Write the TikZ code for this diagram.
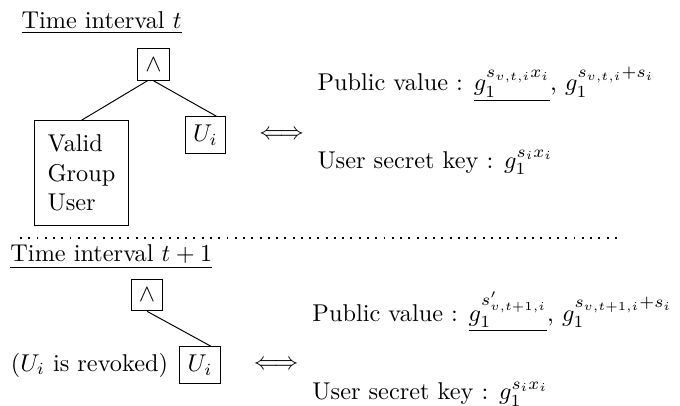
\documentclass[tikz,border=0pt]{standalone}
\usepackage{amsmath, amssymb}
\usepackage{tikz}
\usetikzlibrary{calc}
\tikzset{gatebox/.style={draw, inner sep=2pt, minimum size=13pt}}
\tikzset{userbox/.style={draw}}
\tikzset{groupbox/.style={draw, align=left, inner sep=5pt, minimum width=39pt, minimum height=43pt}}
\tikzset{keytext/.style={anchor=base west}}
\tikzset{sepline/.style={dash pattern=on 0.8pt off 2.6pt, line width=0.5pt}}
\newcommand{\timetitle}[1]{\underline{Time interval $#1$}}

\begin{document}
\begin{tikzpicture}
        \useasboundingbox (0,0) rectangle (9.835,-5.858);

        % time interval t
        \node (title1) [keytext] at (0.187, -0.419) {\timetitle{t}};
        \node (and1) at (2.220, -0.933) [gatebox] {$\wedge$};
        \node (valid) at (1.179, -2.502) [groupbox] {Valid\\Group\\User};
        \node (Ui1) at (2.972, -1.952) [userbox] {$U_i$};
        \draw ([xshift=-2.5pt]and1.south) -- (valid.north);
        \draw (and1.south) -- ([xshift=4.5pt]Ui1.north);

        \node (iff1) [right of=Ui1, node distance=1.1cm] {$\Longleftrightarrow$};
        \node (pub1) [keytext] at (4.468, -1.316) {Public value : $\underline{g_1^{s_{v,t,i}x_i}}$, $g_1^{s_{v,t,i}+s_i}$};
        \node (key1) [keytext] at (4.468, -2.430) {User secret key : $g_1^{s_i x_i}$};

        \coordinate (sepL) at (0.289, -3.442);
        \coordinate (sepR) at (8.938, -3.442);
        \draw[sepline] (sepL) -- (sepR);

        % time interval t+1
        \node (title2) [keytext] at (0.027, -3.789) {\timetitle{t+1}};
        \node (and2) at (2.126, -4.267) [gatebox] {$\wedge$};
        \node (Ui2) at (2.893, -5.279) [userbox] {$U_i$};
        \node (revoked) [left of=Ui2, node distance=1.6cm] {($U_i$ is revoked)};
        \draw (and2.south) -- ([xshift=4.5pt]Ui2.north);

        \node (iff2) [right of=Ui2, node distance=1.1cm] {$\Longleftrightarrow$};
        \node (pub2) [keytext] at (4.395, -4.643) {Public value : $\underline{g_1^{s'_{v,t+1,i}}}$, $g_1^{s_{v,t+1,i}+s_i}$};
        \node (key2) [keytext] at (4.395, -5.785) {User secret key : $g_1^{s_i x_i}$};

\end{tikzpicture}
\end{document}
